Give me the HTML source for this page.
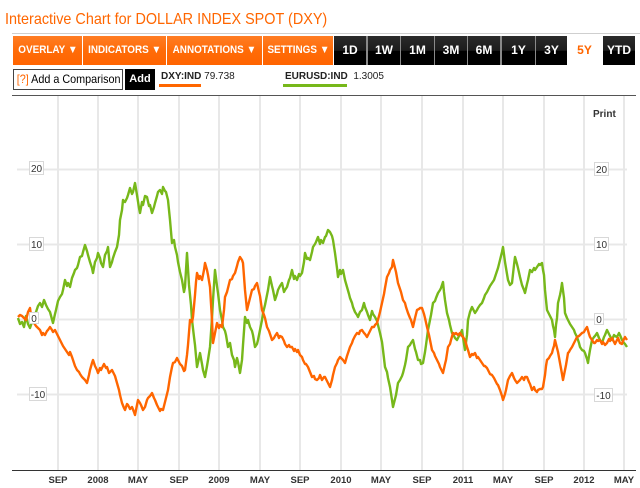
<!DOCTYPE html>
<html>
<head>
<meta charset="utf-8">
<style>
  html,body{margin:0;padding:0;background:#fff;}
  body{width:640px;height:488px;position:relative;overflow:hidden;font-family:"Liberation Sans",Arial,sans-serif;}
  .abs{position:absolute;}
  .title{left:5px;top:10px;font-size:16px;color:#ff6600;white-space:nowrap;transform:scaleX(0.9);transform-origin:0 0;line-height:20px;}
  .hr1{left:12px;top:33px;width:628px;height:1px;background:#cfcfcf;}
  .btn{position:absolute;top:36px;height:29px;line-height:29px;text-align:center;color:#fff;font-weight:bold;font-size:11px;white-space:nowrap;overflow:hidden;}
  .btn span{display:inline-block;}
  .or span{transform:scaleX(0.9);}
  .or{background:linear-gradient(#ff7d24 0%,#ff6c08 50%,#ff6400 100%);}
  .bk{background:linear-gradient(#2b2b2b 0%,#1c1c1c 50%,#000 52%,#000 100%);font-size:12px;}
  .sel{background:#fff;color:#ff6600;font-size:12px;}
  .cmp{left:13px;top:69px;width:108px;height:19px;border:1px solid #444;font-size:12px;line-height:19px;white-space:nowrap;}
  .addb{left:125px;top:69px;width:30px;height:21px;background:#000;color:#fff;font-weight:bold;font-size:11px;line-height:21px;text-align:center;}
  .leg{top:71px;font-size:10px;color:#222;white-space:nowrap;line-height:12px;}
</style>
</head>
<body>
<div class="abs title">Interactive Chart for DOLLAR INDEX SPOT (DXY)</div>
<div class="abs hr1"></div>

<div class="btn or" style="left:13px;width:69px;"><span>OVERLAY &#9660;</span></div>
<div class="btn or" style="left:83px;width:83px;"><span>INDICATORS &#9660;</span></div>
<div class="btn or" style="left:167px;width:95px;"><span>ANNOTATIONS &#9660;</span></div>
<div class="btn or" style="left:263px;width:70px;"><span>SETTINGS &#9660;</span></div>
<div class="btn bk" style="left:334px;width:32px;">1D</div>
<div class="abs" style="left:366px;top:36px;width:2px;height:29px;background:#8a8a8a;"></div>
<div class="btn bk" style="left:368px;width:32px;">1W</div>
<div class="abs" style="left:400px;top:36px;width:1px;height:29px;background:#8a8a8a;"></div>
<div class="btn bk" style="left:401px;width:33px;">1M</div>
<div class="abs" style="left:434px;top:36px;width:1px;height:29px;background:#8a8a8a;"></div>
<div class="btn bk" style="left:435px;width:32px;">3M</div>
<div class="abs" style="left:467px;top:36px;width:1px;height:29px;background:#8a8a8a;"></div>
<div class="btn bk" style="left:468px;width:32px;">6M</div>
<div class="abs" style="left:500px;top:36px;width:2px;height:29px;background:#8a8a8a;"></div>
<div class="btn bk" style="left:502px;width:33px;">1Y</div>
<div class="abs" style="left:535px;top:36px;width:1px;height:29px;background:#8a8a8a;"></div>
<div class="btn bk" style="left:536px;width:31px;">3Y</div>
<div class="btn sel" style="left:568px;width:33px;">5Y</div>
<div class="btn bk" style="left:603px;width:32px;">YTD</div>

<div class="abs cmp"><span style="display:inline-block;transform:scaleX(0.9);transform-origin:0 0;padding-left:3px;"><span style="color:#ff6600;">[?]</span> Add a Comparison</span></div>
<div class="abs addb">Add</div>
<div class="abs leg" style="left:161px;"><b style="font-weight:bold;">DXY:IND</b> 79.738</div>
<div class="abs" style="left:159px;top:84px;width:42px;height:3px;background:#ff6600;"></div>
<div class="abs leg" style="left:285px;"><b style="font-weight:bold;">EURUSD:IND</b> &nbsp;1.3005</div>
<div class="abs" style="left:283px;top:84px;width:64px;height:3px;background:#77b81a;"></div>

<svg class="abs" style="left:0;top:0;" width="640" height="488" viewBox="0 0 640 488" xmlns="http://www.w3.org/2000/svg">
  <line x1="12" y1="95.5" x2="636" y2="95.5" stroke="#555" stroke-width="1"/>
  <g stroke="#e8e8e8" stroke-width="2">
    <line x1="58" y1="96" x2="58" y2="470"/>
    <line x1="98" y1="96" x2="98" y2="470"/>
    <line x1="138" y1="96" x2="138" y2="470"/>
    <line x1="179" y1="96" x2="179" y2="470"/>
    <line x1="219" y1="96" x2="219" y2="470"/>
    <line x1="260" y1="96" x2="260" y2="470"/>
    <line x1="300" y1="96" x2="300" y2="470"/>
    <line x1="341" y1="96" x2="341" y2="470"/>
    <line x1="381" y1="96" x2="381" y2="470"/>
    <line x1="422" y1="96" x2="422" y2="470"/>
    <line x1="463" y1="96" x2="463" y2="470"/>
    <line x1="503" y1="96" x2="503" y2="470"/>
    <line x1="544" y1="96" x2="544" y2="470"/>
    <line x1="584" y1="96" x2="584" y2="470"/>
    <line x1="624" y1="96" x2="624" y2="470"/>
    <line x1="17" y1="169.5" x2="627" y2="169.5"/>
    <line x1="17" y1="244.5" x2="627" y2="244.5"/>
    <line x1="17" y1="319.5" x2="627" y2="319.5"/>
    <line x1="17" y1="394.5" x2="627" y2="394.5"/>
  </g>
  <line x1="12" y1="470.5" x2="636" y2="470.5" stroke="#333" stroke-width="1"/>

  <polyline fill="none" stroke="#77b81a" stroke-width="2.4" stroke-linejoin="round" points="18,318 20,324 22,322 24,327 26,316 28,324 30,328 32,322 34,320 36,312 38,306 40,303 42,307 44,300 46,305 48,309 50,312 53,323 55,314 56,310 58,301 60,297 62,294 63,290 65,280 67,286 68,283 70,287 72,278 74,273 75,270 77,268 78,265 80,257 82,256 83,252 85,245 87,251 88,255 90,262 92,268 93,273 95,262 97,258 98,253 100,258 101,263 103,267 105,255 107,251 108,247 110,267 112,262 113,258 115,252 117,247 119,235 120,220 122,210 123,200 125,202 127,198 128,195 130,188 132,194 133,192 135,183 137,195 139,208 140,213 142,202 143,205 145,196 147,197 149,206 150,205 152,213 154,207 155,203 157,196 158,192 160,190 162,194 163,187 165,191 166,192 168,200 170,220 172,243 174,240 175,247 177,255 178,262 180,272 182,280 184,292 185,287 187,253 189,285 191,305 192,320 194,337 195,345 197,367 199,358 200,353 202,364 203,370 205,377 207,366 208,360 210,347 212,318 213,300 215,270 217,286 218,293 220,310 222,320 223,327 225,331 226,335 228,347 230,343 232,355 234,360 235,367 237,358 238,362 240,373 242,360 243,345 245,317 247,323 248,320 250,327 252,331 253,335 255,347 257,344 258,340 260,330 262,320 263,313 265,305 266,300 268,290 270,277 272,286 273,290 275,300 277,294 278,290 280,286 282,283 284,292 285,290 287,287 289,280 290,278 292,270 294,279 295,276 297,280 299,274 300,276 302,273 304,262 305,253 307,259 308,258 310,260 312,252 313,247 315,244 316,242 318,237 320,244 321,240 323,243 325,237 326,236 328,230 330,232 332,236 333,240 335,253 337,268 338,277 340,270 341,274 343,270 345,280 347,287 349,294 350,298 352,303 353,307 355,312 357,315 358,317 360,312 362,310 364,303 365,307 367,312 368,315 370,320 372,311 373,314 375,317 377,321 378,325 380,333 382,342 383,350 385,367 387,372 388,378 390,387 392,400 393,407 395,399 396,395 398,383 400,380 402,376 403,373 405,365 406,360 408,347 410,345 411,343 413,340 415,349 416,352 418,360 420,360 421,364 423,363 425,352 426,345 428,330 430,320 431,315 433,303 435,301 436,298 438,293 440,290 441,288 443,282 444,292 445,300 447,313 449,320 450,325 452,333 454,336 455,338 457,340 459,336 460,335 462,330 464,344 465,350 467,335 468,320 470,312 472,307 474,311 475,313 477,310 478,308 480,305 482,303 484,298 485,295 487,292 488,290 490,286 492,283 494,280 495,277 497,271 498,268 500,260 502,252 503,247 505,262 507,274 508,280 510,285 511,284 512,283 514,265 515,257 517,264 518,268 520,277 521,281 522,285 524,290 525,293 527,284 528,280 530,270 532,272 534,268 535,270 537,267 539,264 540,265 542,263 543,270 544,275 545,290 547,310 549,314 550,316 552,320 553,326 554,330 555,337 556,325 557,318 558,303 560,295 561,290 562,283 564,298 565,313 567,318 568,320 570,324 572,327 574,330 575,333 577,337 579,343 580,347 582,350 584,351 585,353 587,359 588,363 589,356 590,350 592,340 594,337 595,336 597,333 599,338 600,340 602,343 604,337 605,335 607,330 609,334 610,336 612,340 614,335 615,336 617,337 619,333 620,335 622,340 624,343 625,344 627,347"/>

  <polyline fill="none" stroke="#ff6600" stroke-width="2.4" stroke-linejoin="round" points="18,317 20,315 22,316 24,318 26,320 28,312 30,308 32,322 34,323 36,326 38,328 40,330 42,335 43,333 45,335 47,331 48,330 50,327 52,330 53,332 55,330 57,334 58,336 60,340 62,344 63,346 65,349 67,352 69,355 70,352 72,357 73,360 75,366 77,370 79,372 80,374 82,377 84,379 85,380 87,383 89,375 90,370 92,363 93,360 95,366 97,370 98,373 100,368 101,370 103,366 104,364 106,368 107,367 109,373 110,372 112,370 114,374 115,376 117,383 119,390 120,395 122,403 124,408 125,410 127,404 128,405 130,409 132,407 134,412 135,415 137,405 138,400 140,403 141,405 143,410 145,407 147,400 148,398 150,396 152,393 154,398 155,400 157,405 158,407 160,411 161,409 163,410 165,402 166,398 168,390 170,377 172,367 173,363 175,362 177,358 178,360 180,364 182,366 184,371 185,370 187,355 188,345 190,320 192,322 193,317 195,295 196,282 197,273 199,279 200,276 202,280 204,270 205,263 207,270 208,275 210,287 212,320 213,343 215,333 217,323 219,328 220,325 222,327 224,310 225,297 227,292 228,288 230,280 232,279 233,276 235,273 237,266 238,262 240,257 242,260 243,263 245,290 247,310 249,302 250,298 252,290 254,289 255,286 257,283 259,292 260,296 262,310 264,315 265,318 267,327 269,331 270,334 272,340 274,338 275,336 277,333 279,338 280,336 282,337 284,341 285,344 287,347 289,345 290,347 292,347 294,351 295,349 297,352 298,350 300,355 302,357 303,360 305,364 306,364 308,367 310,372 312,377 314,376 315,379 317,380 319,378 320,375 322,380 324,377 325,377 327,381 328,383 330,387 332,380 333,375 335,367 337,363 338,360 340,357 342,359 343,360 345,363 347,356 348,353 350,347 352,343 353,340 355,336 357,333 359,334 360,331 362,330 364,333 365,334 367,337 369,333 370,331 372,327 374,327 375,325 377,323 379,316 380,312 382,303 384,294 385,288 387,277 389,273 390,270 392,267 393,260 395,268 396,272 398,283 400,289 401,292 403,300 405,303 406,307 408,313 410,318 411,320 413,327 415,318 417,310 419,309 420,308 422,308 424,314 425,318 427,327 429,335 430,340 432,350 434,353 435,356 437,360 439,364 440,367 442,371 443,373 445,364 446,360 448,347 450,344 451,340 453,333 455,334 456,333 458,335 460,333 462,336 463,337 465,340 467,347 468,350 470,357 472,354 473,355 475,353 477,358 478,357 480,360 482,363 484,366 485,366 487,368 488,370 490,374 492,375 494,378 495,380 497,384 498,385 500,390 502,396 503,400 505,394 506,390 508,380 509,378 510,376 512,373 514,378 515,380 517,383 519,381 520,380 522,377 524,380 525,377 527,377 529,382 530,384 532,390 534,387 535,390 537,392 538,390 540,389 542,389 543,387 545,375 546,366 547,360 549,358 550,356 552,353 553,349 554,346 555,340 557,348 558,352 560,363 562,374 563,380 565,370 566,365 568,353 569,352 570,350 572,347 574,343 575,341 577,337 579,336 580,335 582,333 584,332 585,330 587,327 589,334 590,337 592,340 594,343 595,343 597,340 598,341 600,340 602,344 603,342 605,345 607,343 609,339 610,341 612,338 613,340 615,344 616,342 618,338 620,343 622,344 623,341 625,337 627,340"/>

  <g font-family="Liberation Sans, Arial, sans-serif" font-size="10" fill="#333">
    <rect x="29.5" y="161.5" width="14" height="13" fill="#fff" stroke="#d8d8d8"/>
    <text x="36.5" y="172" text-anchor="middle">20</text>
    <rect x="29.5" y="237.5" width="14" height="13" fill="#fff" stroke="#d8d8d8"/>
    <text x="36.5" y="248" text-anchor="middle">10</text>
    <rect x="29.5" y="312.5" width="9" height="11" fill="#fff" stroke="#d8d8d8"/>
    <text x="34" y="322" text-anchor="middle">0</text>
    <rect x="29.5" y="387.5" width="17" height="13" fill="#fff" stroke="#d8d8d8"/>
    <text x="38" y="398" text-anchor="middle">-10</text>

    <rect x="594.5" y="162.5" width="14" height="13" fill="#fff" stroke="#d8d8d8"/>
    <text x="601.5" y="173" text-anchor="middle">20</text>
    <rect x="594.5" y="237.5" width="14" height="13" fill="#fff" stroke="#d8d8d8"/>
    <text x="601.5" y="248" text-anchor="middle">10</text>
    <rect x="594.5" y="313.5" width="9" height="11" fill="#fff" stroke="#d8d8d8"/>
    <text x="599" y="323" text-anchor="middle">0</text>
    <rect x="594.5" y="388.5" width="18" height="13" fill="#fff" stroke="#d8d8d8"/>
    <text x="603.5" y="399" text-anchor="middle">-10</text>

    <text x="593" y="117" font-weight="bold" font-size="10">Print</text>
  </g>

  <g font-family="Liberation Sans, Arial, sans-serif" font-size="9.5" font-weight="bold" fill="#333" text-anchor="middle">
    <text x="58" y="483">SEP</text>
    <text x="98" y="483">2008</text>
    <text x="138" y="483">MAY</text>
    <text x="179" y="483">SEP</text>
    <text x="219" y="483">2009</text>
    <text x="260" y="483">MAY</text>
    <text x="300" y="483">SEP</text>
    <text x="341" y="483">2010</text>
    <text x="381" y="483">MAY</text>
    <text x="422" y="483">SEP</text>
    <text x="463" y="483">2011</text>
    <text x="503" y="483">MAY</text>
    <text x="544" y="483">SEP</text>
    <text x="584" y="483">2012</text>
    <text x="624" y="483">MAY</text>
  </g>
</svg>
</body>
</html>
